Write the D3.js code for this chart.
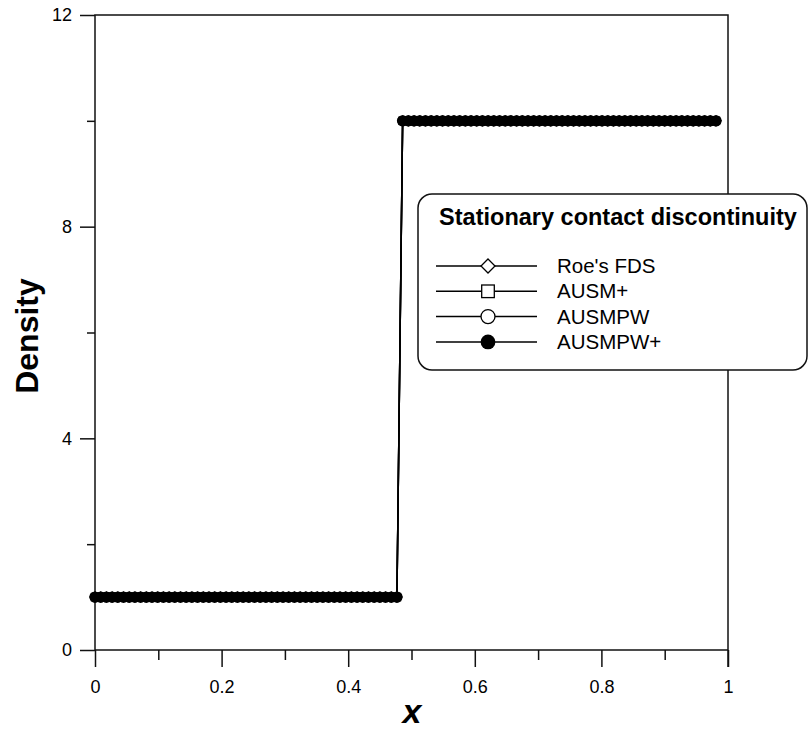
<!DOCTYPE html>
<html>
<head>
<meta charset="utf-8">
<script src="https://cdn.jsdelivr.net/npm/d3@7"></script>
<style>
  body { margin: 0; background: #fff; }
  svg text { font-family: "Liberation Sans", Arial, sans-serif; fill: #000; }
</style>
</head>
<body>
<svg id="chart" width="811" height="729"></svg>
<script>
// grid nodes along x
var xNodes = [
  0.000, 0.009, 0.018, 0.027, 0.036, 0.045, 0.054, 0.063, 0.072, 0.081,
  0.090, 0.099, 0.108, 0.117, 0.126, 0.135, 0.144, 0.153, 0.162, 0.171,
  0.180, 0.189, 0.198, 0.207, 0.216, 0.225, 0.234, 0.243, 0.252, 0.261,
  0.270, 0.279, 0.288, 0.297, 0.306, 0.315, 0.324, 0.333, 0.342, 0.351,
  0.360, 0.369, 0.378, 0.387, 0.396, 0.405, 0.414, 0.423, 0.432, 0.441,
  0.450, 0.459, 0.468, 0.477,
  0.486, 0.495, 0.504, 0.513, 0.522, 0.531, 0.540, 0.549, 0.558, 0.567,
  0.576, 0.585, 0.594, 0.603, 0.612, 0.621, 0.630, 0.639, 0.648, 0.657,
  0.666, 0.675, 0.684, 0.693, 0.702, 0.711, 0.720, 0.729, 0.738, 0.747,
  0.756, 0.765, 0.774, 0.783, 0.792, 0.801, 0.810, 0.819, 0.828, 0.837,
  0.846, 0.855, 0.864, 0.873, 0.882, 0.891, 0.900, 0.909, 0.918, 0.927,
  0.936, 0.945, 0.954, 0.963, 0.972, 0.981
];

// density (all four schemes coincide)
var densityValues = [
  1, 1, 1, 1, 1, 1, 1, 1, 1, 1,
  1, 1, 1, 1, 1, 1, 1, 1, 1, 1,
  1, 1, 1, 1, 1, 1, 1, 1, 1, 1,
  1, 1, 1, 1, 1, 1, 1, 1, 1, 1,
  1, 1, 1, 1, 1, 1, 1, 1, 1, 1,
  1, 1, 1, 1,
  10, 10, 10, 10, 10, 10, 10, 10, 10, 10,
  10, 10, 10, 10, 10, 10, 10, 10, 10, 10,
  10, 10, 10, 10, 10, 10, 10, 10, 10, 10,
  10, 10, 10, 10, 10, 10, 10, 10, 10, 10,
  10, 10, 10, 10, 10, 10, 10, 10, 10, 10,
  10, 10, 10, 10, 10, 10
];

var seriesNames = ["Roe's FDS", "AUSM+", "AUSMPW", "AUSMPW+"];
var seriesMarkers = ["diamond", "square", "circle", "dot"];
var seriesValues = [densityValues, densityValues, densityValues, densityValues];

var xTicks = [0, 0.2, 0.4, 0.6, 0.8, 1];
var xMinorTicks = [0.1, 0.3, 0.5, 0.7, 0.9];
var yTicks = [0, 4, 8, 12];
var yMinorTicks = [2, 6, 10];

var legendTitle = "Stationary contact discontinuity";

var svg = d3.select('#chart');
var plotLeft = 95, plotRight = 728, plotTop = 15, plotBottom = 650;

var x = d3.scaleLinear().domain([0, 1]).range([plotLeft, plotRight]);
var y = d3.scaleLinear().domain([0, 12]).range([plotBottom, plotTop]);

var axisColor = '#111';

// axes
var gx = svg.append('g').attr('transform', 'translate(0,' + plotBottom + ')')
    .call(d3.axisBottom(x).tickValues(xTicks).tickSize(17).tickPadding(13)
        .tickSizeOuter(0).tickFormat(function (d) { return d3.format('')(d); }));
var gxm = svg.append('g').attr('transform', 'translate(0,' + plotBottom + ')')
    .call(d3.axisBottom(x).tickValues(xMinorTicks).tickSize(10).tickSizeOuter(0).tickFormat(''));
var gy = svg.append('g').attr('transform', 'translate(' + plotLeft + ',0)')
    .call(d3.axisLeft(y).tickValues(yTicks).tickSize(15).tickPadding(8).tickSizeOuter(0));
var gym = svg.append('g').attr('transform', 'translate(' + plotLeft + ',0)')
    .call(d3.axisLeft(y).tickValues(yMinorTicks).tickSize(8).tickSizeOuter(0).tickFormat(''));

[gx, gxm, gy, gym].forEach(function (g) {
    g.select('.domain').remove();
    g.selectAll('line').attr('stroke', axisColor).attr('stroke-width', 1.5);
    g.selectAll('text').attr('font-size', 18).attr('fill', '#000')
        .style('font-family', '"Liberation Sans", Arial, sans-serif');
});

// frame
svg.append('rect')
    .attr('x', plotLeft).attr('y', plotTop)
    .attr('width', plotRight - plotLeft).attr('height', plotBottom - plotTop)
    .attr('fill', 'none').attr('stroke', axisColor).attr('stroke-width', 1.5);
// right edge carries the tick at x = 1 below the axis
svg.append('line').attr('x1', plotRight).attr('x2', plotRight)
    .attr('y1', plotBottom).attr('y2', plotBottom + 17)
    .attr('stroke', axisColor).attr('stroke-width', 1.5);

// axis titles
svg.append('text')
    .attr('x', 412).attr('y', 723)
    .attr('text-anchor', 'middle')
    .attr('font-size', 34).attr('font-weight', 'bold').attr('font-style', 'italic')
    .text('x');

svg.append('text')
    .attr('transform', 'translate(38,336) rotate(-90)')
    .attr('text-anchor', 'middle')
    .attr('font-size', 32).attr('font-weight', 'bold')
    .text('Density');

// series
var line = d3.line()
    .x(function (d) { return x(d[0]); })
    .y(function (d) { return y(d[1]); });

// s = half size of the marker, q = square half side factor
function drawMarker(g, type, cx, cy, s, q) {
    if (type == 'diamond') {
        g.append('path')
            .attr('d', 'M' + cx + ',' + (cy - s) + 'L' + (cx + s) + ',' + cy +
                  'L' + cx + ',' + (cy + s) + 'L' + (cx - s) + ',' + cy + 'Z')
            .attr('fill', '#fff').attr('stroke', '#000').attr('stroke-width', 1.3);
    } else if (type == 'square') {
        g.append('rect')
            .attr('x', cx - s * q).attr('y', cy - s * q)
            .attr('width', 2 * s * q).attr('height', 2 * s * q)
            .attr('fill', '#fff').attr('stroke', '#000').attr('stroke-width', 1.3);
    } else if (type == 'circle') {
        g.append('circle').attr('cx', cx).attr('cy', cy).attr('r', s)
            .attr('fill', '#fff').attr('stroke', '#000').attr('stroke-width', 1.3);
    } else {
        g.append('circle').attr('cx', cx).attr('cy', cy).attr('r', s + 0.4)
            .attr('fill', '#000');
    }
}

var plot = svg.append('g');
seriesNames.forEach(function (name, k) {
    var pts = xNodes.map(function (xv, i) { return [xv, seriesValues[k][i]]; });
    var g = plot.append('g');
    g.append('path').datum(pts)
        .attr('d', line)
        .attr('fill', 'none').attr('stroke', '#000').attr('stroke-width', 1.5);
    pts.forEach(function (p) {
        drawMarker(g, seriesMarkers[k], x(p[0]), y(p[1]), 5, 0.72);
    });
});

// legend
var lg = svg.append('g');
lg.append('rect')
    .attr('x', 418).attr('y', 194).attr('width', 389).attr('height', 176)
    .attr('rx', 14).attr('ry', 14)
    .attr('fill', '#fff').attr('stroke', axisColor).attr('stroke-width', 1.5);
lg.append('text')
    .attr('x', 618).attr('y', 225)
    .attr('text-anchor', 'middle')
    .attr('font-size', 23.5).attr('font-weight', 'bold')
    .text(legendTitle);

seriesNames.forEach(function (name, k) {
    var ry = 266 + k * 25.3;
    lg.append('line')
        .attr('x1', 436).attr('x2', 537).attr('y1', ry).attr('y2', ry)
        .attr('stroke', '#000').attr('stroke-width', 1.5);
    drawMarker(lg, seriesMarkers[k], 488, ry, 7, 0.9);
    lg.append('text')
        .attr('x', 557).attr('y', ry + 7)
        .attr('font-size', 20.5)
        .text(name);
});
</script>
</body>
</html>
